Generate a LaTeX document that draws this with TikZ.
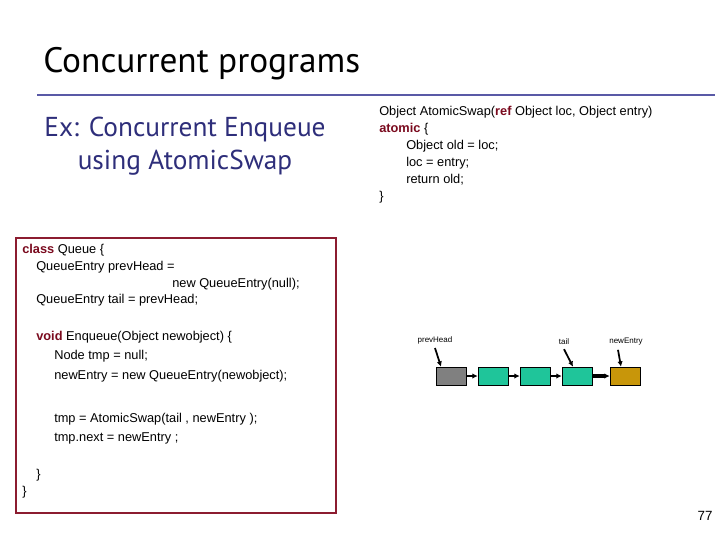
\documentclass[tikz,border=0pt]{standalone}
\usepackage{fontspec}
\setmainfont{Liberation Sans}
\newfontfamily\titlefont{PT Sans}
\usetikzlibrary{positioning, arrows.meta}
\definecolor{kwred}{HTML}{7A0A1E}
\definecolor{exblue}{HTML}{2E2E7A}
\definecolor{cellteal}{HTML}{1FC59A}
\definecolor{cellgold}{HTML}{C8960A}
\definecolor{boxred}{HTML}{8C1C30}
\newcommand{\kw}[1]{\textcolor{kwred}{\textbf{#1}}}
\begin{document}
\begin{tikzpicture}[x=0.75pt, y=-0.75pt, >=Latex]
% styles for the text lines and the list cells
\tikzset{
code/.style = {anchor=west, inner sep=0pt, font=\fontsize{9.6}{12}\selectfont},
cell/.style = {draw, minimum width=22.5pt, minimum height=13.5pt, inner sep=0pt},
lbl/.style = {inner sep=0pt, font=\fontsize{6}{7}\selectfont},
link/.style = {-{Latex[length=4pt,width=4pt]}, line width=1.3pt},
}
\useasboundingbox (0,0) rectangle (720,540);

% Title and rule
\node [anchor=west, inner sep=0pt, font=\titlefont\fontsize{26.5}{30}\selectfont] (title) at (43,64) {Concurrent programs};
\draw [color=gray!70!blue, line width=0.8pt] (37,95) -- (715,95);

% Subtitle
\node [align=center, inner sep=0pt, text=exblue, font=\titlefont\fontsize{20.5}{25}\selectfont] (ex) at (185,146) {Ex: Concurrent Enqueue\\using AtomicSwap};

% AtomicSwap code
\node [code] (s1) at (379,112) {Object AtomicSwap(\kw{ref} Object loc, Object entry)};
\node [code] (s2) at (379,129) {\kw{atomic} \{};
\node [code] (s3) at (406,146) {Object old = loc;};
\node [code] (s4) at (406,163) {loc = entry;};
\node [code] (s5) at (406,180) {return old;};
\node [code] (s6) at (379,197) {\}};

% Queue code box
\draw [boxred, line width=1pt] (16,238) rectangle (336,513);
\node [code] (q1) at (22,250) {\kw{class} Queue \{};
\node [code] (q2) at (36,267) {QueueEntry prevHead =};
\node [code] (q3) at (172,284) {new QueueEntry(null);};
\node [code] (q4) at (36,300) {QueueEntry tail = prevHead;};
\node [code] (q5) at (36,337) {\kw{void} Enqueue(Object newobject) \{};
\node [code] (q6) at (54,356) {Node tmp = null;};
\node [code] (q7) at (54,376) {newEntry = new QueueEntry(newobject);};
\node [code] (q8) at (54,419) {tmp = AtomicSwap(tail , newEntry );};
\node [code] (q9) at (54,438) {tmp.next = newEntry ;};
\node [code] (q10) at (36,475) {\}};
\node [code] (q11) at (22,492) {\}};

% Linked list
\node [cell, fill=gray] (c0) at (451,376) {};
\node [cell, fill=cellteal] (c1) at (493,376) {};
\node [cell, fill=cellteal] (c2) at (535,376) {};
\node [cell, fill=cellteal] (c3) at (577,376) {};
\node [cell, fill=cellgold] (c4) at (625,376) {};
\draw [link] (c0) -- (c1);
\draw [link] (c1) -- (c2);
\draw [link] (c2) -- (c3);
\draw [link, line width=2.5pt] (c3) -- (c4);

\node [lbl] (lhead) at (435,340) {prevHead};
\node [lbl] (ltail) at (564,342) {tail};
\node [lbl] (lnew) at (626,342) {newEntry};
\draw [link] ([yshift=-3pt]lhead.south) -- ([xshift=-7.5pt]c0.north);
\draw [link] ([yshift=-3pt]ltail.south) -- ([xshift=-3pt]c3.north);
\draw [link] ([xshift=-6pt,yshift=-3pt]lnew.south) -- ([xshift=-3pt]c4.north);

% Page number
\node [inner sep=0pt, font=\fontsize{10}{12}\selectfont] (page) at (705,516) {77};
\end{tikzpicture}
\end{document}
